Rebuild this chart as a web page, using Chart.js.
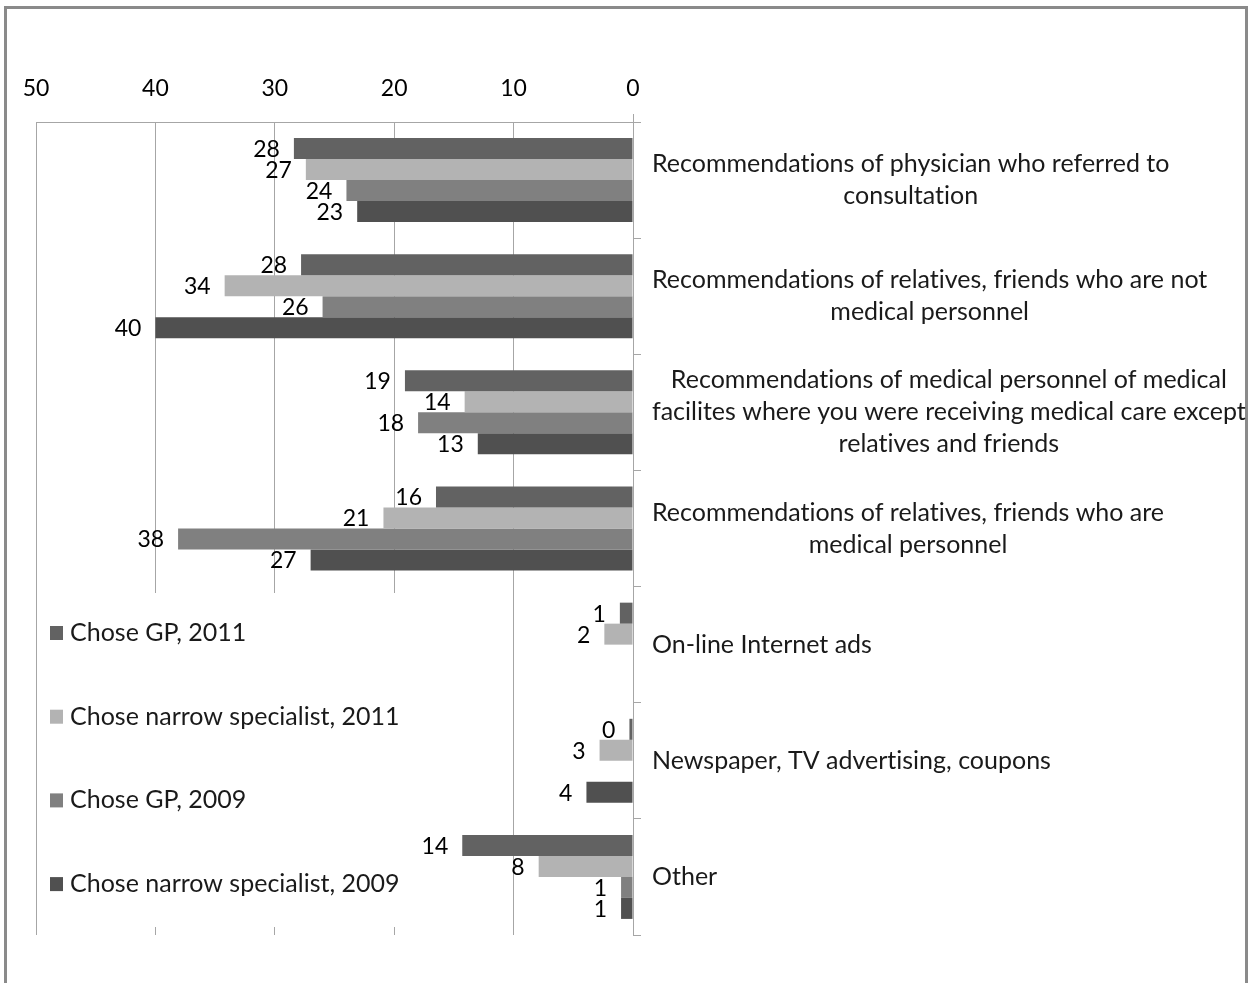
<!DOCTYPE html>
<html>
<head>
<meta charset="utf-8">
<script src="https://cdn.jsdelivr.net/npm/chart.js@4.4.1/dist/chart.umd.min.js"></script>
<style>
  html, body { margin: 0; padding: 0; background: #fff; overflow: hidden; }
  #frame { position: absolute; left: 4px; top: 6px; width: 1238px; height: 1000px; border: 3px solid #8a8a8a; }
  #wrap { position: absolute; left: 0; top: 0; width: 1254px; height: 983px; }
</style>
</head>
<body>
<div id="frame"></div>
<div id="wrap"><canvas id="chart" width="1254" height="983"></canvas></div>
<script>
  const categorias = [
    ['Recommendations of physician who referred to', 'consultation'],
    ['Recommendations of relatives, friends who are not', 'medical personnel'],
    ['Recommendations of medical personnel of medical', 'facilites where you were receiving medical care except', 'relatives and friends'],
    ['Recommendations of relatives, friends who are', 'medical personnel'],
    ['On-line Internet ads'],
    ['Newspaper, TV advertising, coupons'],
    ['Other']
  ];
  const series = ['Chose GP, 2011', 'Chose narrow specialist, 2011', 'Chose GP, 2009', 'Chose narrow specialist, 2009'];

  // bar lengths
  const gp2011 = [28.4, 27.8, 19.1, 16.5, 1.1, 0.3, 14.3];
  const ns2011 = [27.4, 34.2, 14.1, 20.9, 2.4, 2.8, 7.9];
  const gp2009 = [24.0, 26.0, 18.0, 38.1, null, null, 1.0];
  const ns2009 = [23.1, 40.0, 13.0, 27.0, null, 3.9, 1.0];

  // numbers printed next to the bars
  const etqGp2011 = ['28', '28', '19', '16', '1', '0', '14'];
  const etqNs2011 = ['27', '34', '14', '21', '2', '3', '8'];
  const etqGp2009 = ['24', '26', '18', '38', '', '', '1'];
  const etqNs2009 = ['23', '40', '13', '27', '', '4', '1'];

  const xTicks = [0, 10, 20, 30, 40, 50];

  const colores = ['#626262', '#b3b3b3', '#808080', '#505050'];
  const FONT = 'Lato';
  const NUM_SIZE = 23;   // numbers
  const TXT_SIZE = 25;   // category names, legend
  const gridCol = '#a6a6a6';

  const etiquetas = [etqGp2011, etqNs2011, etqGp2009, etqNs2009];

  function noLigatures(ctx) {
    if ('textRendering' in ctx) ctx.textRendering = 'optimizeSpeed';
  }

  const valueLabels = {
    id: 'valueLabels',
    afterDatasetsDraw(chart) {
      const ctx = chart.ctx;
      ctx.save();
      ctx.font = `${NUM_SIZE}px ${FONT}`;
      ctx.fillStyle = '#000';
      ctx.textAlign = 'right';
      ctx.textBaseline = 'middle';
      chart.data.datasets.forEach((ds, di) => {
        chart.getDatasetMeta(di).data.forEach((bar, i) => {
          if (ds.data[i] == null) return;
          ctx.fillText(etiquetas[di][i], bar.x - 14, bar.y + 1);
        });
      });
      ctx.restore();
    }
  };

  const catLabels = {
    id: 'catLabels',
    afterDraw(chart) {
      const ctx = chart.ctx;
      const y = chart.scales.y;
      const area = chart.chartArea;
      const left = area.right + 19;
      const lh = 32;
      ctx.save();
      // axis line pokes a little above the top axis
      ctx.strokeStyle = gridCol;
      ctx.lineWidth = 1;
      ctx.beginPath();
      ctx.moveTo(area.right + 0.5, area.top - 8);
      ctx.lineTo(area.right + 0.5, area.top);
      ctx.stroke();

      noLigatures(ctx);
      ctx.font = `${TXT_SIZE}px ${FONT}`;
      ctx.fillStyle = '#1a1a1a';
      ctx.textAlign = 'center';
      ctx.textBaseline = 'middle';
      categorias.forEach((lines, i) => {
        const cy = y.getPixelForValue(i);
        const w = Math.max(...lines.map(l => ctx.measureText(l).width));
        const y0 = cy - (lines.length - 1) * lh / 2;
        lines.forEach((l, k) => ctx.fillText(l, left + w / 2, y0 + k * lh));
      });
      ctx.restore();
    }
  };

  const legendBox = {
    id: 'legendBox',
    afterDatasetsDraw(chart) {
      const ctx = chart.ctx;
      ctx.save();
      ctx.fillStyle = '#fff';
      ctx.fillRect(40, 593, 362, 334);
      noLigatures(ctx);
      ctx.font = `${TXT_SIZE}px ${FONT}`;
      ctx.textAlign = 'left';
      ctx.textBaseline = 'middle';
      chart.data.datasets.forEach((ds, i) => {
        const cy = 633 + i * 83.7;
        ctx.fillStyle = ds.backgroundColor;
        ctx.fillRect(50, cy - 7, 13, 14);
        ctx.fillStyle = '#1a1a1a';
        ctx.fillText(ds.label, 70, cy);
      });
      ctx.restore();
    }
  };

  new Chart(document.getElementById('chart'), {
    type: 'bar',
    data: {
      labels: categorias,
      datasets: [gp2011, ns2011, gp2009, ns2009].map((d, i) => ({
        label: series[i],
        data: d,
        backgroundColor: colores[i],
        borderWidth: 0,
        barPercentage: 1,
        categoryPercentage: 0.723
      }))
    },
    options: {
      indexAxis: 'y',
      responsive: false,
      animation: false,
      layout: { padding: { left: 36, top: 20, right: 0, bottom: 48 } },
      plugins: { legend: { display: false }, tooltip: { enabled: false } },
      scales: {
        x: {
          position: 'top',
          reverse: true,
          min: 0,
          max: 50,
          afterBuildTicks: s => { s.ticks = xTicks.map(v => ({ value: v })); },
          afterFit: s => { s.height = 102; },
          ticks: { font: { family: FONT, size: NUM_SIZE }, color: '#000', padding: 20 },
          grid: { color: gridCol, drawTicks: false },
          border: { color: gridCol }
        },
        y: {
          position: 'right',
          afterFit: s => { s.width = 621; },
          ticks: { display: false },
          grid: { offset: true, drawOnChartArea: false, tickLength: 8, color: gridCol },
          border: { color: gridCol }
        }
      }
    },
    plugins: [valueLabels, catLabels, legendBox]
  });
</script>
</body>
</html>
